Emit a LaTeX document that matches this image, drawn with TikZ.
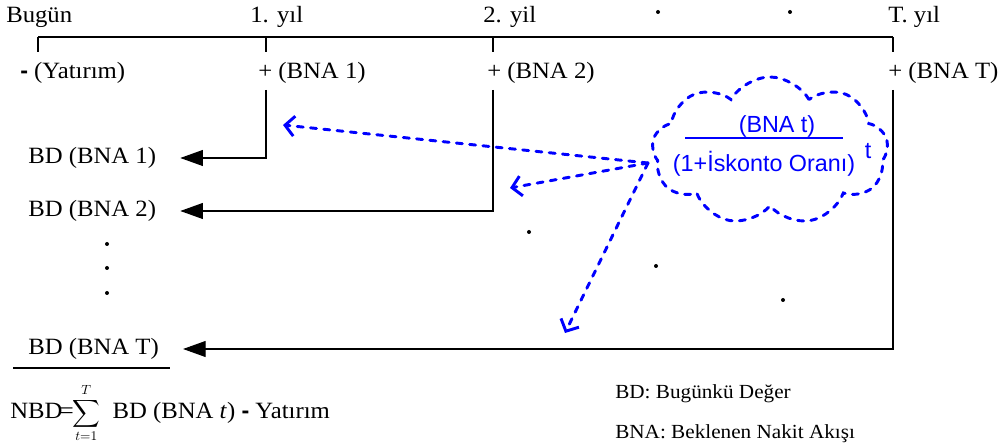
\documentclass[tikz,border=0pt]{standalone}
\usepackage{amsmath}
\usepackage{fontspec}
\setmainfont[FakeStretch=1.06]{Liberation Serif}
\setsansfont{Liberation Sans}
\usetikzlibrary{arrows.meta,shapes.symbols}
\definecolor{npvblue}{RGB}{0,0,255}

\begin{document}
\begin{tikzpicture}[x=0.75pt,y=-0.75pt,
 lbl/.style={font=\fontsize{17.5}{20}\selectfont,inner sep=0pt,anchor=west},
 leg/.style={font=\fontsize{15}{18}\selectfont,inner sep=0pt,anchor=west},
 frm/.style={font=\sffamily\fontsize{17.5}{20}\selectfont,text=npvblue,inner sep=0pt},
 pt/.style={circle,fill,inner sep=0pt,minimum size=3pt},
 tl/.style={line width=0.8pt},
 blk/.style={tl,-{Triangle[length=17pt,width=12pt]},shorten >=18pt},
 dsh/.style={draw=npvblue,line width=2.2pt,line cap=round,dash pattern=on 4.5pt off 5.5pt},
 darr/.style={dsh,-{Straight Barb[length=7pt,width=15pt]}}]
\useasboundingbox (0,0) rectangle (1006,448);

% time line
\node[lbl] (t0) at (6,17) {Bugün};
\node[lbl] (t1) at (250,17) {1. yıl};
\node[lbl] (t2) at (483,17) {2. yil};
\node[lbl] (tT) at (888,17) {T. yıl};
\node[pt] (h1) at (658,12) {};
\node[pt] (h2) at (790,12) {};
\coordinate (l0) at (38,37);
\coordinate (l1) at (266,37);
\coordinate (l2) at (493,37);
\coordinate (lT) at (893,37);
\draw[tl] (l0) -- (lT);
\foreach \c in {l0,l1,l2,lT} \draw[tl] (\c) -- ++(0,15);

% cash flows
\node[lbl] (c0) at (20,73) {\textsf{\textbf{-}} (Yatırım)};
\node[lbl] (c1) at (258,73) {+ (BNA 1)};
\node[lbl] (c2) at (487,73) {+ (BNA 2)};
\node[lbl] (cT) at (888,73) {+ (BNA T)};

% present values
\node[lbl] (bd1) at (28,158) {BD (BNA 1)};
\node[lbl] (bd2) at (28,211) {BD (BNA 2)};
\node[lbl] (bdT) at (28,349) {BD (BNA T)};
\foreach \y [count=\i] in {244,268,293} \node[pt] (v\i) at (107,\y) {};
\coordinate (s1) at (266,90);
\coordinate (s2) at (493,90);
\coordinate (sT) at (893,90);
\draw[blk] (s1) |- (bd1);
\draw[blk] (s2) |- (bd2);
\draw[blk] (sT) |- (bdT);
\coordinate (u0) at (13,368);
\coordinate (u1) at (170,368);
\draw[tl] (u0) -- (u1);
\node[pt] (m1) at (529,232) {};
\node[pt] (m2) at (656,266) {};
\node[pt] (m3) at (783,300) {};

% discount cloud
\node[cloud,cloud puffs=9,cloud puff arc=120,cloud ignores aspect,dsh,
  minimum width=177pt,minimum height=111pt] (cloud) at (770,151) {};
\node[frm] (num) at (777,126) {(BNA t)};
\node[frm] (den) at (764,164) {(1+İskonto Oranı)};
\node[frm] (exp) at (868,151) {t};
\coordinate (f0) at (685,138);
\coordinate (f1) at (843,138);
\draw[npvblue,line width=0.9pt] (f0) -- (f1);
\coordinate (src) at (648,163);
\coordinate (a1) at (283,125);
\coordinate (a2) at (510,188);
\coordinate (a3) at (565,333);
\draw[darr] (src) -- (a1);
\draw[darr] (src) -- (a2);
\draw[darr] (src) -- (a3);

% NPV formula and legend
\node[lbl] (npv) at (10,413) {NBD\kern-2pt=\kern-1pt{\fontsize{14}{16}\selectfont$\displaystyle\sum_{t=1}^{T}$}\ \ BD (BNA \textit{t}) \textsf{\textbf{-}} Yatırım};
\node[leg] (k1) at (615,394) {BD: Bugünkü Değer};
\node[leg] (k2) at (615,434) {BNA: Beklenen Nakit Akışı};
\end{tikzpicture}
\end{document}
